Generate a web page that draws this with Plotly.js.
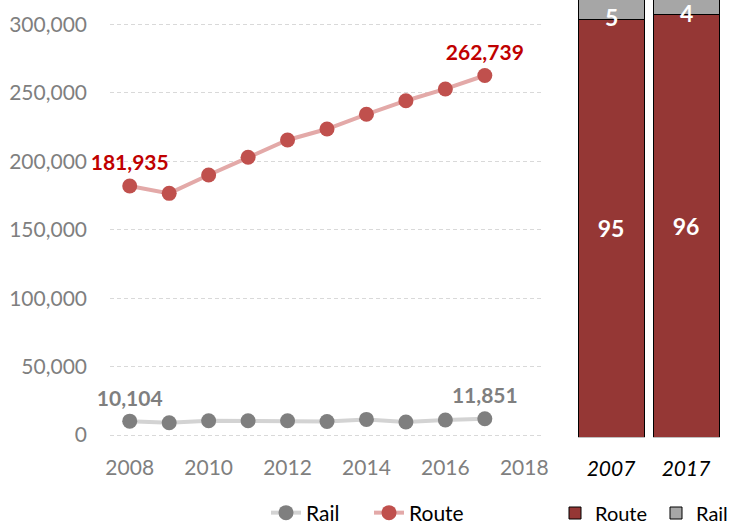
<!DOCTYPE html>
<html>
<head>
<meta charset="utf-8">
<script src="https://cdn.plot.ly/plotly-3.0.1.min.js"></script>
<style>html,body{margin:0;padding:0;background:#fff;}#chart{width:731px;height:526px;}</style>
</head>
<body>
<div id="chart"></div>
<script>
// Line chart data
const years = [2008, 2009, 2010, 2011, 2012, 2013, 2014, 2015, 2016, 2017];
const routeValues = [181935, 176600, 190000, 203000, 215600, 223600, 234400, 244300, 252900, 262739];
const railValues = [10104, 9000, 10450, 10450, 10400, 9900, 11400, 9500, 11000, 11851];

// Share bars (percent)
const shareYears = ['2007', '2017'];
const shareRoute = [95, 96];
const shareRail = [5, 4];

const FONT = 'Lato, "Open Sans", sans-serif';

function endLabels(vals) {
  return vals.map((v, i) => (i === 0 || i === vals.length - 1) ? v.toLocaleString('en-US') : '');
}

const traces = [
  {
    x: years, y: railValues, name: 'Rail', type: 'scatter', mode: 'lines+markers+text',
    line: {color: '#d3d3d3', width: 4},
    marker: {color: '#7f7f7f', size: 15},
    text: endLabels(railValues), textposition: 'top center',
    textfont: {family: FONT, size: 21, color: '#7f7f7f', weight: 'bold'},
    cliponaxis: false, xaxis: 'x', yaxis: 'y', legend: 'legend'
  },
  {
    x: years, y: routeValues, name: 'Route', type: 'scatter', mode: 'lines+markers+text',
    line: {color: '#e3a9a8', width: 4},
    marker: {color: '#c0504d', size: 15},
    text: endLabels(routeValues), textposition: 'top center',
    textfont: {family: FONT, size: 21, color: '#c00000', weight: 'bold'},
    cliponaxis: false, xaxis: 'x', yaxis: 'y', legend: 'legend'
  },
  {
    x: shareYears, y: shareRoute, name: 'Route', type: 'bar', width: 0.88,
    marker: {color: '#953735', line: {color: '#000000', width: 1}},
    text: shareRoute.map(String), textposition: 'inside', insidetextanchor: 'middle',
    textfont: {family: FONT, size: 23, color: '#ffffff', weight: 'bold'},
    xaxis: 'x2', yaxis: 'y2', legend: 'legend2'
  },
  {
    x: shareYears, y: shareRail, name: 'Rail', type: 'bar', width: 0.88,
    marker: {color: '#a6a6a6', line: {color: '#000000', width: 1}},
    textposition: 'none',
    xaxis: 'x2', yaxis: 'y2', legend: 'legend2'
  }
];

const annotations = shareYears.map((yr, i) => ({
  x: i, y: shareRoute[i], xref: 'x2', yref: 'y2', text: String(shareRail[i]),
  showarrow: false, yanchor: 'middle', yshift: 2,
  font: {family: FONT, size: 23, color: '#ffffff', weight: 'bold'}
}));

const layout = {
  width: 731, height: 526,
  margin: {l: 0, r: 0, t: 0, b: 0, autoexpand: false},
  paper_bgcolor: '#ffffff', plot_bgcolor: 'rgba(0,0,0,0)',
  font: {family: FONT, size: 21, color: '#7f7f7f'},
  showlegend: true, hovermode: false, barmode: 'stack',
  xaxis: {
    domain: [110/731, 544/731], range: [2007.5, 2018.5], dtick: 2, tick0: 2008,
    showgrid: false, zeroline: false, showline: false, ticks: '',
    tickfont: {family: FONT, size: 21, color: '#7f7f7f'}, ticklabelstandoff: 16, anchor: 'y'
  },
  yaxis: {
    domain: [(526-437.05)/526, (526-22.45)/526], range: [-1500, 301500],
    tickvals: [0, 50000, 100000, 150000, 200000, 250000, 300000],
    tickformat: ',d', showgrid: true, gridcolor: '#d9d9d9', griddash: '4px,3px', gridwidth: 1,
    zeroline: false, showline: false, ticks: '',
    tickfont: {family: FONT, size: 21, color: '#7f7f7f'}, ticklabelstandoff: 22, anchor: 'x'
  },
  xaxis2: {
    domain: [573.5/731, 723.5/731], type: 'category', range: [-0.5, 1.5],
    showgrid: false, zeroline: false, showline: false, ticks: '', anchor: 'y2',
    tickfont: {family: FONT, size: 21, color: '#000000', style: 'italic'}, ticklabelstandoff: 17
  },
  yaxis2: {
    domain: [(526-437.3)/526, 1], range: [0, 99.4], showgrid: false, zeroline: false,
    showline: false, showticklabels: false, ticks: '', anchor: 'x2'
  },
  legend: {
    orientation: 'h', x: 266/731, y: 13/526, xanchor: 'left', yanchor: 'middle', entrywidth: 58,
    font: {family: FONT, size: 21, color: '#000000'}, bgcolor: 'rgba(0,0,0,0)'
  },
  legend2: {
    orientation: 'h', x: 555/731, y: 13/526, xanchor: 'left', yanchor: 'middle', entrywidth: 56,
    font: {family: FONT, size: 20, color: '#000000'}, bgcolor: 'rgba(0,0,0,0)', traceorder: 'normal'
  },
  annotations: annotations
};

Plotly.newPlot('chart', traces, layout, {displayModeBar: false, staticPlot: true});
</script>
</body>
</html>
